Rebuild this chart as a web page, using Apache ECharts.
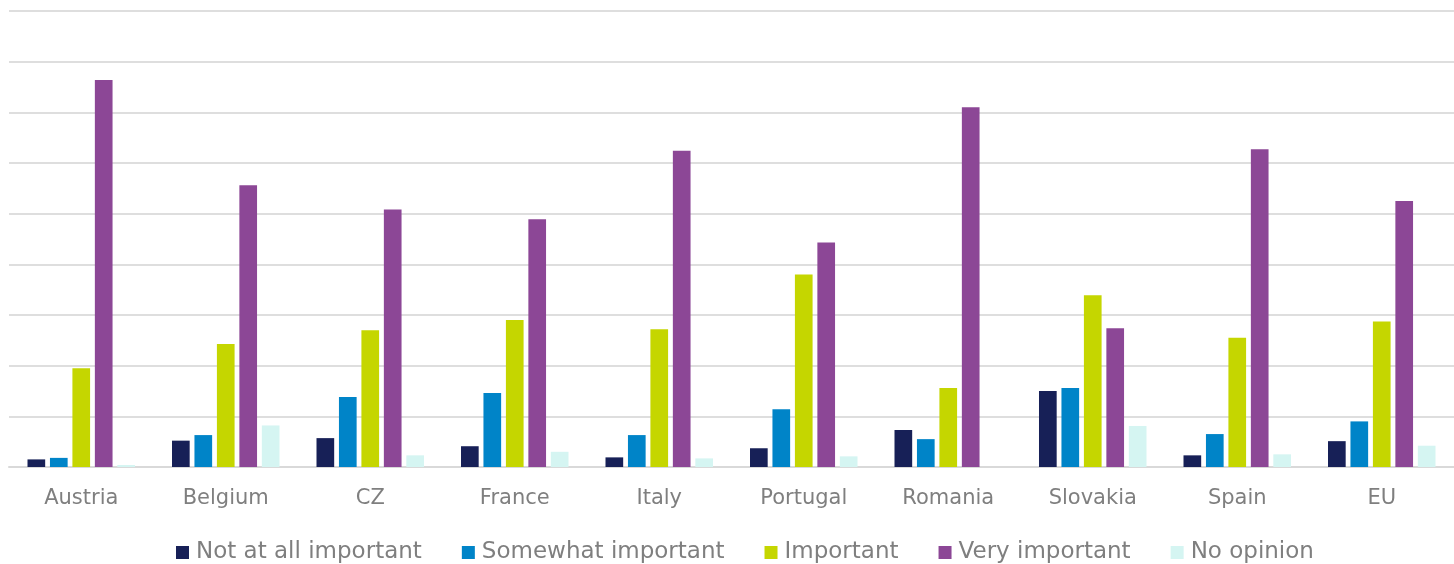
<!DOCTYPE html>
<html>
<head>
<meta charset="utf-8">
<script src="https://cdn.jsdelivr.net/npm/echarts@6/dist/echarts.min.js"></script>
<style>
  html, body { margin: 0; padding: 0; background: #fff; }
  #chart { width: 1454px; height: 564px; }
</style>
</head>
<body>
<div id="chart"></div>
<script>
// Share of respondents (%) by country and level of importance
const countries = ['Austria', 'Belgium', 'CZ', 'France', 'Italy', 'Portugal', 'Romania', 'Slovakia', 'Spain', 'EU'];
const seriesNames = ['Not at all important', 'Somewhat important', 'Important', 'Very important', 'No opinion'];
const notAtAll   = [1.5, 5.2, 5.7, 4.1, 1.9, 3.7, 7.3, 15.0, 2.3, 5.1];
const somewhat   = [1.8, 6.3, 13.8, 14.6, 6.3, 11.4, 5.5, 15.6, 6.5, 9.0];
const important  = [19.5, 24.3, 27.0, 29.0, 27.2, 38.0, 15.6, 33.9, 25.5, 28.7];
const veryImp    = [76.4, 55.6, 50.8, 48.9, 62.4, 44.3, 71.0, 27.4, 62.7, 52.5];
const noOpinion  = [0.4, 8.2, 2.3, 3.0, 1.7, 2.1, 0, 8.1, 2.5, 4.2];
const colors = ['#172057', '#0084C8', '#C5D600', '#8C4796', '#D5F5F2'];

const values = [notAtAll, somewhat, important, veryImp, noOpinion];
const font = 'Century Gothic, "DejaVu Sans", sans-serif';

const chart = echarts.init(document.getElementById('chart'), null, { renderer: 'canvas' });
chart.setOption({
  animation: false,
  color: colors,
  grid: { left: 9, right: 0, top: 11, bottom: 97, containLabel: false },
  xAxis: {
    type: 'category',
    data: countries,
    axisTick: { show: false },
    axisLine: { lineStyle: { color: '#d9d9d9', width: 2 } },
    axisLabel: { color: '#7f7f7f', fontSize: 21, fontFamily: font, margin: 21 }
  },
  yAxis: {
    type: 'value',
    min: 0, max: 90, interval: 10,
    axisLabel: { show: false },
    axisLine: { show: false },
    axisTick: { show: false },
    splitLine: { lineStyle: { color: '#dedede', width: 2 } }
  },
  legend: {
    top: 536,
    left: 171,
    itemWidth: 13,
    itemHeight: 13,
    itemGap: 40,
    icon: 'rect',
    textStyle: { color: '#7f7f7f', fontSize: 23, fontFamily: font, padding: [0, 0, 0, 2] },
    data: seriesNames
  },
  series: seriesNames.map((name, i) => ({
    name: name,
    type: 'bar',
    data: values[i],
    barGap: '27%',
    barCategoryGap: '25.6%'
  }))
});
</script>
</body>
</html>
